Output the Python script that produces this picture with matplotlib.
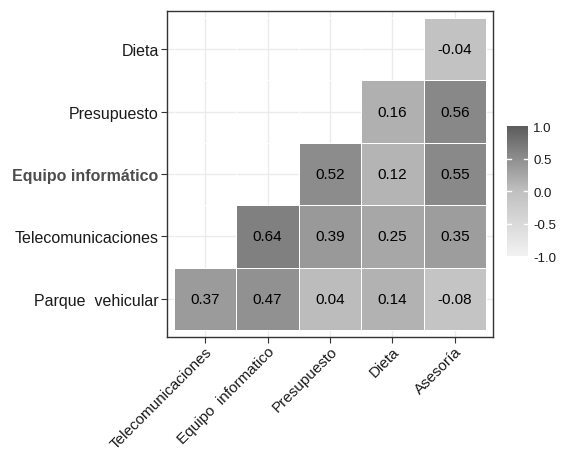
import numpy as np
import matplotlib.pyplot as plt
from matplotlib.colors import LinearSegmentedColormap

plt.rcParams['font.family'] = ['Liberation Sans', 'DejaVu Sans']

# categories
x_labels = ["Telecomunicaciones", "Equipo  informatico", "Presupuesto", "Dieta", "Asesoría"]
y_labels = ["Parque  vehicular", "Telecomunicaciones", "Equipo informático", "Presupuesto", "Dieta"]

# correlation values, rows from bottom to top (nan = hidden cell)
nan = np.nan
row_parque = [0.37, 0.47, 0.04, 0.14, -0.08]
row_telecom = [nan, 0.64, 0.39, 0.25, 0.35]
row_equipo = [nan, nan, 0.52, 0.12, 0.55]
row_presup = [nan, nan, nan, 0.16, 0.56]
row_dieta = [nan, nan, nan, nan, -0.04]

corr = np.array([row_parque, row_telecom, row_equipo, row_presup, row_dieta])

cmap = LinearSegmentedColormap.from_list("grays", ["#F2F2F2", "#C0C0C0", "#5C5C5C"])

fig = plt.figure(figsize=(5.67, 4.56), dpi=100)
ax = fig.add_axes([0.2945, 0.2588, 0.575, 0.715])

nx, ny = len(x_labels), len(y_labels)
xe = np.arange(nx + 1) - 0.5
ye = np.arange(ny + 1) - 0.5
mesh = ax.pcolormesh(xe, ye, np.ma.masked_invalid(corr), cmap=cmap, vmin=-1, vmax=1,
                     edgecolors="white", linewidth=0.6, zorder=2)

# value labels
for i in range(ny):
    for j in range(nx):
        v = corr[i, j]
        if not np.isnan(v):
            ax.text(j, i, f"{v:.2f}", ha="center", va="center", fontsize=11, color="black", zorder=3)

pad = 0.11
ax.set_xlim(-0.5 - pad, nx - 0.5 + pad)
ax.set_ylim(-0.5 - pad, ny - 0.5 + pad)

ax.set_xticks(range(nx))
ax.set_yticks(range(ny))
ax.set_xticklabels(x_labels, rotation=45, ha="right", rotation_mode="anchor", fontsize=11, color="#1a1a1a")
ax.set_yticklabels(y_labels, fontsize=11.5, color="#1a1a1a")
ylabs = ax.get_yticklabels()
ylabs[2].set_fontweight("bold")
ylabs[2].set_color("#4d4d4d")

ax.tick_params(axis="both", length=4, width=0.8, color="#333333", pad=2)
ax.tick_params(axis="x", pad=1)
ax.grid(True, color="#EBEBEB", linewidth=1.0, linestyle="-", zorder=0)
ax.set_axisbelow(True)
for s in ax.spines.values():
    s.set_color("#333333")
    s.set_linewidth(1.0)

# colour bar
cax = fig.add_axes([0.894, 0.4364, 0.037, 0.285])
cb = fig.colorbar(mesh, cax=cax, ticks=[-1, -0.5, 0, 0.5, 1])
cb.ax.set_yticklabels(["-1.0", "-0.5", "0.0", "0.5", "1.0"], fontsize=9.5, color="#1a1a1a")
cb.outline.set_visible(False)
cb.ax.tick_params(length=0, pad=4)
for t in [-0.5, 0, 0.5]:
    cb.ax.plot([0, 0.2], [t, t], color="white", linewidth=1, transform=cb.ax.get_yaxis_transform())
    cb.ax.plot([0.8, 1], [t, t], color="white", linewidth=1, transform=cb.ax.get_yaxis_transform())

fig.savefig("out.png", dpi=100)
